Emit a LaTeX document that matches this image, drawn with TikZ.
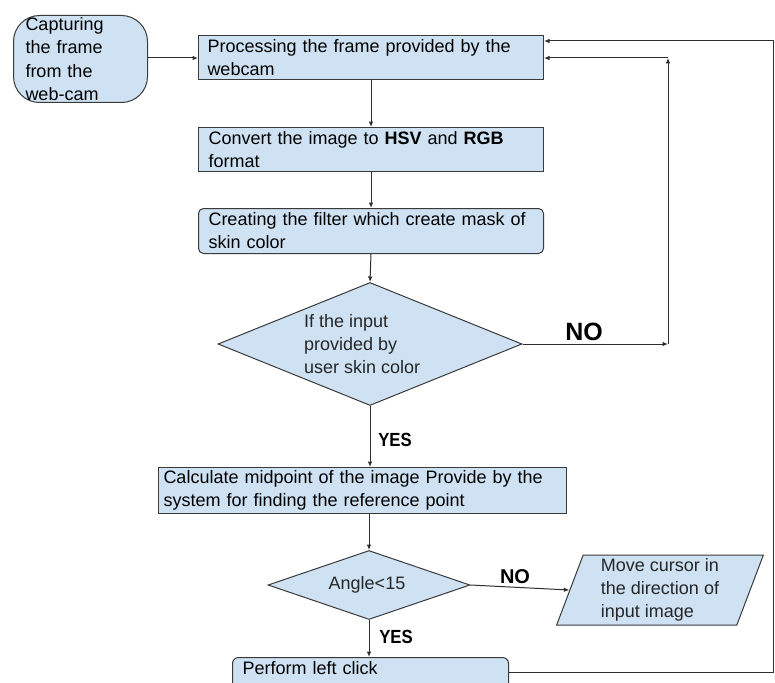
\documentclass[tikz,border=0pt]{standalone}
\usepackage{fontspec}
\setmainfont{Liberation Sans}
\usetikzlibrary{shapes.geometric,arrows.meta}
\definecolor{fillblue}{HTML}{CFE2F3}
\definecolor{edgegray}{HTML}{3A3A3A}
\definecolor{linegray}{HTML}{2E2E2E}
\begin{document}
\begin{tikzpicture}[x=1pt,y=-1pt,
  font=\fontsize{18}{23}\selectfont,
  shp/.style={draw=edgegray, fill=fillblue, line width=1pt},
  pbox/.style={shp, rectangle, anchor=north west, inner ysep=0pt, inner xsep=9pt, align=left},
  txt/.style={inner sep=0pt, align=left, text=black!85},
  arr/.style={draw=linegray, line width=1pt, -{Latex[length=5.5pt,width=4.5pt]}},
  conn/.style={draw=linegray, line width=1pt},
  lbl/.style={inner sep=0pt, font=\fontsize{#1}{#1}\selectfont\bfseries}]
\clip (0,0) rectangle (775,682);
\fill[white] (0,0) rectangle (775,682);

% start terminal
\node[shp, rectangle, rounded corners=26pt, anchor=north west, minimum width=134pt, minimum height=87pt,
      inner xsep=12pt, inner ysep=0pt, text width=110pt, align=left,
      font=\fontsize{18}{23.5}\selectfont] (term) at (13,15) {Capturing\\the frame\\from the\\web-cam};

% process boxes
\node[pbox, minimum width=345pt, minimum height=44pt, text width=327pt] (b1) at (198,35)
  {Processing the frame provided by the\\webcam};
\node[pbox, minimum width=345pt, minimum height=44pt, text width=325pt, inner xsep=10pt] (b2) at (198,127)
  {Convert the image to \textbf{HSV} and \textbf{RGB}\\format};
\node[pbox, rounded corners=5pt, minimum width=345pt, minimum height=45pt, text width=325pt, inner xsep=10pt] (b3) at (198,208)
  {Creating the filter which create mask of\\skin color};

% decision 1
\node[shp, diamond, minimum width=304pt, minimum height=123pt, inner sep=0pt] (d1) at (370,344) {};
\node[txt, anchor=west] (d1t) at (304,344) {If the input\\provided by\\user skin color};

% box 4
\node[pbox, minimum width=408pt, minimum height=46pt, text width=398pt, inner xsep=5pt] (b4) at (158,467)
  {Calculate midpoint of the image Provide by the\\system for finding the reference point};

% decision 2
\node[shp, diamond, minimum width=202pt, minimum height=69pt, inner sep=0pt] (d2) at (369,585) {};
\node[txt] (d2t) at (367,585) {Angle<15};

% parallelogram
\node[shp, trapezium, trapezium left angle=72, trapezium right angle=108, trapezium stretches=true,
      minimum width=207pt, minimum height=70pt, inner sep=0pt, align=left, text=black!85] (para) at (660,590)
  {Move cursor in\\the direction of\\input image};

% final box (continues below the page edge)
\node[pbox, rounded corners=6pt, minimum width=276pt, minimum height=0pt, text width=256pt, inner xsep=10pt,
      text height=17pt, text depth=25pt] (b5) at (232,657)
  {Perform left click};

% coordinates for loops
\coordinate (n1) at (668,344);
\coordinate (n2) at (668,58);
\coordinate (c2) at (773,41);

% connectors
\draw[arr] (term.east |- 0,58) -- (b1.west |- 0,58);
\draw[arr] (b1.south) -- (b2.north);
\draw[arr] (b2.south) -- (b3.north);
\draw[arr] (b3.south) -- (d1.north);
\draw[arr] (d1.south) -- (d1.south |- b4.north);
\draw[arr] (d1.east) -- (n1);
\draw[arr] (n1) -- (n2);
\draw[arr] (n2) -- (n2 -| b1.east);
\draw[arr] (d2.north |- b4.south) -- (d2.north);
\draw[arr] (d2.east) -- (para.west);
\draw[arr] (d2.south) -- (d2.south |- b5.north);
\draw[arr] (b5.east |- 0,672) -| (c2) -- (c2 -| b1.east);

% labels
\node[lbl=25] (no1) at (584,332) {NO};
\node[lbl=20] (no2) at (515,577) {NO};
\node[lbl=19] (yes1) at (395,440) {\scalebox{0.88}[1]{YES}};
\node[lbl=19] (yes2) at (396,637) {\scalebox{0.88}[1]{YES}};
\end{tikzpicture}
\end{document}
